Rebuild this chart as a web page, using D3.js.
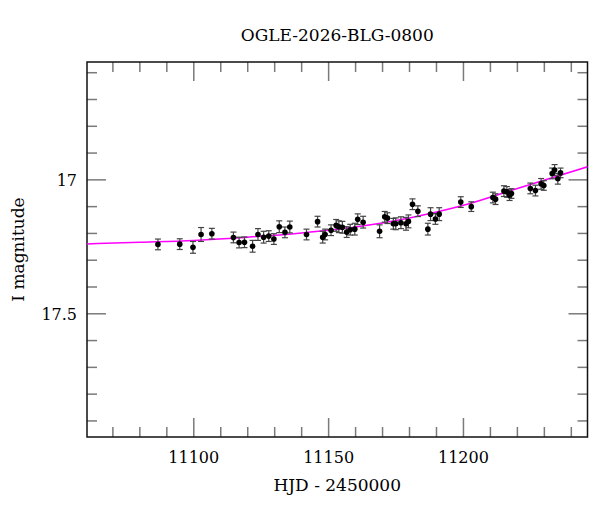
<!DOCTYPE html>
<html>
<head>
    <meta charset="utf-8">
    <title>OGLE light curve</title>
    <style>
        body { margin: 0; background: #fff; }
        text { font-family: "DejaVu Serif", serif; fill: #000; }
    </style>
</head>
<body>
<div id="plot"></div>
<script src="https://cdn.jsdelivr.net/npm/d3@7"></script>
<script>

    let title = 'OGLE-2026-BLG-0800';

    // photometry: HJD - 2450000, I mag, error
    let hjd = [11086.7, 11094.8, 11099.7, 11102.7, 11106.7, 11114.7, 11116.8, 11118.8,
        11121.8, 11123.8, 11125.9, 11127.8, 11129.7, 11131.7, 11133.8, 11135.6,
        11141.8, 11145.9, 11147.8, 11148.7, 11150.9, 11152.8, 11153.8, 11155.1,
        11156.7, 11158.0, 11159.7, 11160.8, 11162.8, 11168.9, 11170.8, 11171.8,
        11174.0, 11174.9, 11176.8, 11178.7, 11179.6, 11181.1, 11183.1, 11186.8,
        11187.8, 11189.6, 11191.0, 11199.0, 11202.9, 11210.9, 11211.9, 11215.0,
        11216.1, 11217.1, 11217.8, 11224.8, 11226.7, 11228.8, 11229.8, 11232.9,
        11233.8, 11235.0, 11236.0];
    let mag = [17.241, 17.240, 17.252, 17.204, 17.201, 17.215, 17.234, 17.233,
        17.248, 17.204, 17.214, 17.210, 17.221, 17.175, 17.196, 17.176,
        17.204, 17.156, 17.214, 17.204, 17.188, 17.170, 17.175, 17.177,
        17.195, 17.186, 17.184, 17.147, 17.158, 17.192, 17.138, 17.143,
        17.164, 17.164, 17.160, 17.164, 17.155, 17.091, 17.117, 17.184,
        17.128, 17.146, 17.128, 17.083, 17.100, 17.066, 17.072, 17.042,
        17.045, 17.057, 17.051, 17.032, 17.040, 17.015, 17.021, 16.976,
        16.963, 16.996, 16.974];
    let magErr = [0.020, 0.020, 0.022, 0.026, 0.020, 0.020, 0.020, 0.020,
        0.022, 0.022, 0.022, 0.020, 0.020, 0.022, 0.020, 0.022,
        0.020, 0.020, 0.022, 0.020, 0.020, 0.022, 0.022, 0.022,
        0.020, 0.020, 0.022, 0.020, 0.022, 0.024, 0.020, 0.020,
        0.020, 0.022, 0.022, 0.024, 0.024, 0.020, 0.020, 0.022,
        0.024, 0.020, 0.024, 0.020, 0.018, 0.020, 0.020, 0.020,
        0.020, 0.020, 0.018, 0.020, 0.020, 0.020, 0.018, 0.020,
        0.020, 0.020, 0.018];

    // model curve
    let modelHjd = [11058, 11080, 11100, 11120, 11140, 11160, 11180, 11200, 11220, 11248];
    let modelMag = [17.240, 17.233, 17.226, 17.214, 17.198, 17.176, 17.142, 17.095, 17.032, 16.945];

    let xMajor = [11100, 11150, 11200];
    let yMajor = [17, 17.5];

    let data = hjd.map((t, i) => ({t: t, m: mag[i], e: magErr[i]}));
    let model = modelHjd.map((t, i) => ({t: t, m: modelMag[i]}));

    function translate(x, y) {
        return 'translate(' + x + ', ' + y + ')';
    }

    let svgWidth = 600;
    let svgHeight = 512;
    let margin = {top: 62, right: 12.5, bottom: 75, left: 87};
    let width = svgWidth - margin.left - margin.right;
    let height = svgHeight - margin.top - margin.bottom;

    let svg = d3.select('#plot')
        .append('svg')
        .attr('width', svgWidth)
        .attr('height', svgHeight);

    let g = svg.append('g')
        .attr('transform', translate(margin.left, margin.top));

    let x = d3.scaleLinear().domain([11060.4, 11246]).range([0, width]);
    let y = d3.scaleLinear().domain([16.56, 17.96]).range([0, height]);

    let xMinor = d3.range(11070, 11246, 10).filter(v => xMajor.indexOf(v) < 0);
    let yMinor = d3.range(16.6, 17.95, 0.1).map(v => +v.toFixed(1)).filter(v => yMajor.indexOf(v) < 0);

    let tickColor = '#7a7a7a';
    let bigTick = 19, smallTick = 10;

    // ticks on all four sides, pointing inward
    let ticks = g.append('g').attr('stroke', tickColor).attr('stroke-width', 1.5);
    [[xMajor, bigTick], [xMinor, smallTick]].forEach(function(pair) {
        ticks.selectAll(null).data(pair[0]).enter().append('line')
            .attr('x1', d => x(d)).attr('x2', d => x(d))
            .attr('y1', height).attr('y2', height - pair[1]);
        ticks.selectAll(null).data(pair[0]).enter().append('line')
            .attr('x1', d => x(d)).attr('x2', d => x(d))
            .attr('y1', 0).attr('y2', pair[1]);
    });
    [[yMajor, bigTick], [yMinor, smallTick]].forEach(function(pair) {
        ticks.selectAll(null).data(pair[0]).enter().append('line')
            .attr('y1', d => y(d)).attr('y2', d => y(d))
            .attr('x1', 0).attr('x2', pair[1]);
        ticks.selectAll(null).data(pair[0]).enter().append('line')
            .attr('y1', d => y(d)).attr('y2', d => y(d))
            .attr('x1', width).attr('x2', width - pair[1]);
    });

    // frame
    g.append('rect')
        .attr('width', width)
        .attr('height', height)
        .attr('fill', 'none')
        .attr('stroke', '#111')
        .attr('stroke-width', 1.5);

    // tick labels
    g.selectAll('.xlab').data(xMajor).enter().append('text')
        .attr('x', d => x(d))
        .attr('y', height + 26)
        .style('text-anchor', 'middle')
        .style('font-size', '16px')
        .text(d => d);

    g.selectAll('.ylab').data(yMajor).enter().append('text')
        .attr('x', -10)
        .attr('y', d => y(d) + 6)
        .style('text-anchor', 'end')
        .style('font-size', '16px')
        .text(d => d);

    // clip for model line
    svg.append('defs').append('clipPath').attr('id', 'clip')
        .append('rect').attr('width', width).attr('height', height);

    let line = d3.line()
        .x(d => x(d.t))
        .y(d => y(d.m))
        .curve(d3.curveMonotoneX);

    g.append('path')
        .datum(model)
        .attr('clip-path', 'url(#clip)')
        .attr('d', line)
        .attr('fill', 'none')
        .attr('stroke', '#ff00ff')
        .attr('stroke-width', 1.5);

    // error bars
    let bars = g.append('g').attr('stroke', '#444').attr('stroke-width', 1.2);
    let pts = bars.selectAll('g').data(data).enter().append('g');
    pts.append('line')
        .attr('x1', d => x(d.t)).attr('x2', d => x(d.t))
        .attr('y1', d => y(d.m - d.e)).attr('y2', d => y(d.m + d.e));
    pts.append('line')
        .attr('x1', d => x(d.t) - 3).attr('x2', d => x(d.t) + 3)
        .attr('y1', d => y(d.m - d.e)).attr('y2', d => y(d.m - d.e));
    pts.append('line')
        .attr('x1', d => x(d.t) - 3).attr('x2', d => x(d.t) + 3)
        .attr('y1', d => y(d.m + d.e)).attr('y2', d => y(d.m + d.e));

    g.selectAll('circle').data(data).enter().append('circle')
        .attr('cx', d => x(d.t))
        .attr('cy', d => y(d.m))
        .attr('r', 2.8)
        .attr('fill', '#000');

    // titles
    g.append('text')
        .attr('x', width / 2)
        .attr('y', -21)
        .style('text-anchor', 'middle')
        .style('font-size', '17px')
        .text(title);

    g.append('text')
        .attr('x', width / 2)
        .attr('y', height + 54)
        .style('text-anchor', 'middle')
        .style('font-size', '17px')
        .text('HJD - 2450000');

    g.append('text')
        .attr('transform', translate(-63, height / 2) + ' rotate(-90)')
        .style('text-anchor', 'middle')
        .style('font-size', '17px')
        .text('I magnitude');

</script>
</body>
</html>
